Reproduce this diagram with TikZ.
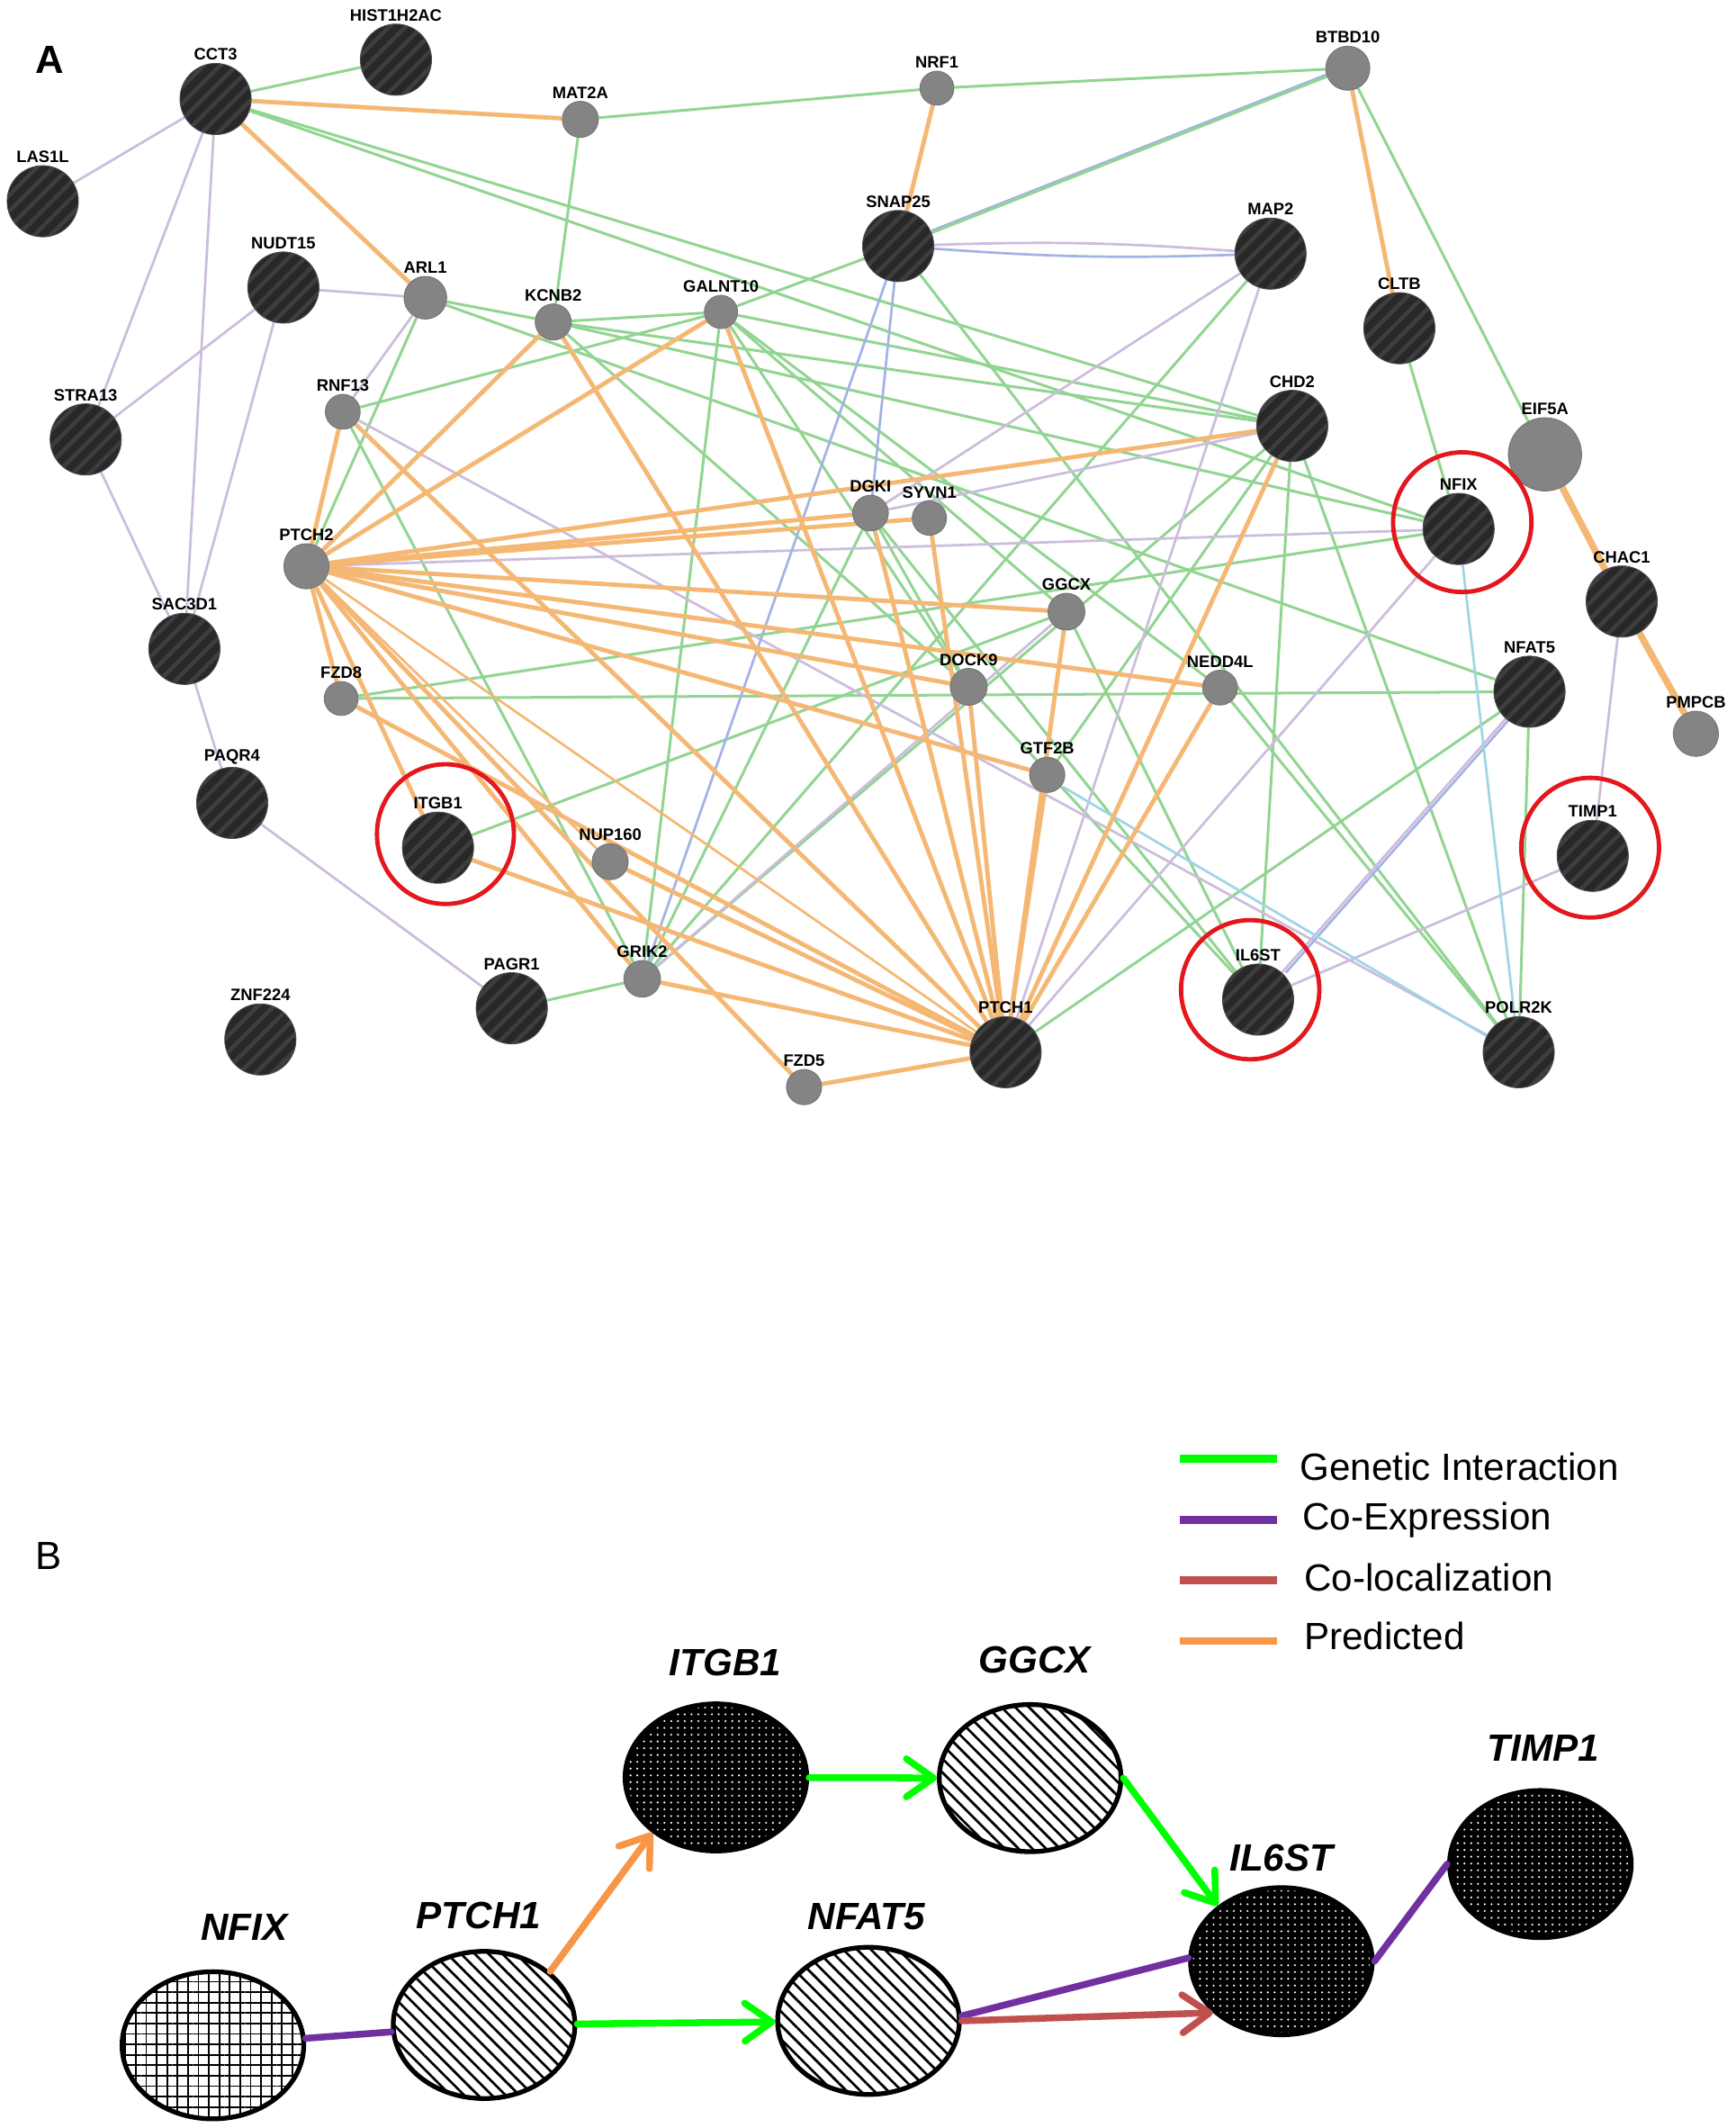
\documentclass[tikz,border=0pt]{standalone}
\usepackage{fontspec}
\setmainfont{Liberation Sans}
\usetikzlibrary{shapes.geometric,arrows.meta,patterns.meta}
\pgfdeclarelayer{edges}
\pgfsetlayers{edges,main}

\definecolor{genA}{HTML}{92D592}
\definecolor{predA}{HTML}{F5B874}
\definecolor{coexA}{HTML}{CDBCDD}
\definecolor{physA}{HTML}{A3B3E3}
\definecolor{pwayA}{HTML}{9FD5E4}
\definecolor{hubfill}{HTML}{282828}
\definecolor{hubline}{HTML}{3E3E3E}
\definecolor{grayfill}{HTML}{848484}
\definecolor{ringred}{HTML}{E3171D}
\definecolor{genB}{HTML}{00FF00}
\definecolor{coexB}{HTML}{7030A0}
\definecolor{colocB}{HTML}{C0504D}
\definecolor{predB}{HTML}{F79646}

\begin{document}
\begin{tikzpicture}[x=1pt, y=-1pt, label distance=1.2pt,
    glab/.style={font=\bfseries\fontsize{12.2}{13}\selectfont, inner sep=0.5pt},
    hub/.style={circle, draw=black!70, line width=0.6pt, minimum size=52.5pt, inner sep=0pt,
      preaction={fill=hubfill},
      preaction={pattern={Lines[angle=45,distance=8.5pt,line width=3pt]}, pattern color=hubline}},
    gnode/.style={circle, draw=black!55, line width=0.6pt, fill=grayfill, minimum size=#1, inner sep=0pt},
    gnode/.default=26pt,
    redring/.style={draw=ringred, line width=3.2pt},
    gen/.style={genA, line width=2pt},
    pred/.style={predA, line width=3.2pt},
    predthin/.style={predA, line width=1.8pt},
    coex/.style={coexA, line width=1.8pt},
    phys/.style={physA, line width=1.8pt},
    pway/.style={pwayA, line width=1.8pt},
    bgene/.style={ellipse, draw=black, line width=3.5pt, minimum width=134pt, minimum height=108.5pt, inner sep=0pt},
    gridfill/.style={bgene, preaction={fill=white},
      preaction={pattern={Hatch[distance=7.7pt,line width=1.2pt]}, pattern color=black}},
    stripefill/.style={bgene, preaction={fill=white},
      preaction={pattern={Lines[angle=-45,distance=7.2pt,line width=1.8pt]}, pattern color=black}},
    dotfill/.style={bgene, preaction={fill=black},
      preaction={pattern={Dots[distance=5pt,radius=0.8pt]}, pattern color=white}},
    blab/.style={font=\bfseries\itshape\fontsize{28}{30}\selectfont, inner sep=0pt},
    leg/.style={font=\fontsize{28}{30}\selectfont, inner sep=0pt, anchor=base west},
    link/.style={line width=5pt, line cap=round},
    arr/.style={link, -{Straight Barb[length=20pt,width=28pt,round]}}]
\useasboundingbox (0,0) rectangle (1280,1569);

% panel A: genes
\node[hub, label={[glab]above:CCT3}] (CCT3) at (159,73) {};
\node[hub, label={[glab]above:HIST1H2AC}] (HIST1H2AC) at (292,44) {};
\node[hub, label={[glab]above:LAS1L}] (LAS1L) at (31.5,148.4) {};
\node[hub, label={[glab]above:SNAP25}] (SNAP25) at (662.4,181.4) {};
\node[hub, label={[glab]above:MAP2}] (MAP2) at (937,187) {};
\node[hub, label={[glab]above:CLTB}] (CLTB) at (1032,242) {};
\node[hub, label={[glab]above:NUDT15}] (NUDT15) at (209,212) {};
\node[hub, label={[glab]above:STRA13}] (STRA13) at (63.2,324) {};
\node[hub, label={[glab]above:CHD2}] (CHD2) at (953,314) {};
\node[hub, label={[glab]above:NFIX}] (NFIX) at (1075.7,390) {};
\node[hub, label={[glab]above:CHAC1}] (CHAC1) at (1196,443.5) {};
\node[hub, label={[glab]above:SAC3D1}] (SAC3D1) at (136,478.4) {};
\node[hub, label={[glab]above:NFAT5}] (NFAT5) at (1128,510) {};
\node[hub, label={[glab]above:PAQR4}] (PAQR4) at (171.2,592) {};
\node[hub, label={[glab]above:ITGB1}] (ITGB1) at (323,625) {};
\node[hub, label={[glab]above:TIMP1}] (TIMP1) at (1174.6,631) {};
\node[hub, label={[glab]above:PAGR1}] (PAGR1) at (377.4,743.4) {};
\node[hub, label={[glab]above:IL6ST}] (IL6ST) at (927.8,737) {};
\node[hub, label={[glab]above:ZNF224}] (ZNF224) at (192,766.4) {};
\node[hub, label={[glab]above:PTCH1}] (PTCH1) at (741.6,775.8) {};
\node[hub, label={[glab]above:POLR2K}] (POLR2K) at (1120,775.8) {};

\node[gnode=26.6pt, label={[glab]above:MAT2A}] (MAT2A) at (428,88) {};
\node[gnode=25pt, label={[glab]above:NRF1}] (NRF1) at (691,65) {};
\node[gnode=32.5pt, label={[glab]above:BTBD10}] (BTBD10) at (994,50.3) {};
\node[gnode=31.5pt, label={[glab]above:ARL1}] (ARL1) at (313.7,219.5) {};
\node[gnode=26.6pt, label={[glab]above:KCNB2}] (KCNB2) at (408,237.4) {};
\node[gnode=24.5pt, label={[glab]above:GALNT10}] (GALNT10) at (531.7,230) {};
\node[gnode=25.7pt, label={[glab]above:RNF13}] (RNF13) at (252.8,303.6) {};
\node[gnode=54pt, label={[glab]above:EIF5A}] (EIF5A) at (1139.4,335) {};
\node[gnode=33.3pt, label={[glab]above:PTCH2}] (PTCH2) at (226,417.5) {};
\node[gnode=26.3pt, label={[glab]above:DGKI}] (DGKI) at (642,378.3) {};
\node[gnode=25.3pt, label={[glab]above:SYVN1}] (SYVN1) at (685.4,382) {};
\node[gnode=27.2pt, label={[glab]above:GGCX}] (GGCX) at (786.5,451) {};
\node[gnode=27.2pt, label={[glab]above:DOCK9}] (DOCK9) at (714.4,506.4) {};
\node[gnode=25.7pt, label={[glab]above:NEDD4L}] (NEDD4L) at (899.8,507) {};
\node[gnode=25pt, label={[glab]above:FZD8}] (FZD8) at (251.6,515) {};
\node[gnode=33.3pt, label={[glab]above:PMPCB}] (PMPCB) at (1250.7,541) {};
\node[gnode=26pt, label={[glab]above:GTF2B}] (GTF2B) at (772.3,571.3) {};
\node[gnode=26.6pt, label={[glab]above:NUP160}] (NUP160) at (450,635.3) {};
\node[gnode=27pt, label={[glab]above:GRIK2}] (GRIK2) at (473.6,721.7) {};
\node[gnode=26pt, label={[glab]above:FZD5}] (FZD5) at (593,801.5) {};

\node[font=\bfseries\fontsize{29}{30}\selectfont, inner sep=0pt] (panelA) at (37,44) {A};

% rings round the four hits
\draw[redring] (1078.4,385) ellipse [x radius=51, y radius=51.5];
\draw[redring] (328.5,615) ellipse [x radius=50.5, y radius=51.5];
\draw[redring] (922,729.7) ellipse [x radius=51, y radius=51.3];
\draw[redring] (1172.7,625) ellipse [x radius=50.8, y radius=51.5];

\begin{pgfonlayer}{edges}
\fill[white] (0,0) rectangle (1280,1569);
\foreach \a/\b in {CCT3/HIST1H2AC, CCT3/CHD2, CCT3/NFIX, MAT2A/NRF1, NRF1/BTBD10, MAT2A/KCNB2,
    NRF1/SNAP25, BTBD10/EIF5A, SNAP25/GALNT10, SNAP25/POLR2K, ARL1/KCNB2, ARL1/PTCH2, ARL1/NFAT5,
    KCNB2/GALNT10, KCNB2/NFIX, KCNB2/CHD2, KCNB2/DOCK9, GALNT10/CHD2, GALNT10/RNF13, GALNT10/GRIK2,
    GALNT10/DOCK9, GALNT10/GGCX, GALNT10/NEDD4L, RNF13/GRIK2, FZD8/NFIX, FZD8/NFAT5, ITGB1/GGCX,
    GGCX/IL6ST, DGKI/DOCK9, DGKI/IL6ST, DOCK9/IL6ST, PTCH1/NFAT5, NFAT5/POLR2K, CLTB/NFIX,
    CHD2/POLR2K, CHD2/IL6ST, CHD2/GRIK2, CHD2/GTF2B, NEDD4L/POLR2K, MAP2/GRIK2, PAGR1/GRIK2,
    GRIK2/DGKI}
  \draw[gen] (\a) -- (\b);
\foreach \a/\b in {CCT3/LAS1L, CCT3/STRA13, CCT3/SAC3D1, NUDT15/STRA13, NUDT15/SAC3D1, NUDT15/ARL1,
    STRA13/SAC3D1, SAC3D1/PAQR4, PAQR4/PAGR1, ARL1/RNF13, RNF13/POLR2K, PTCH2/NFIX, NFIX/PTCH1,
    IL6ST/TIMP1, CHAC1/TIMP1, MAP2/PTCH1, MAP2/DGKI, DGKI/CHD2, GRIK2/GGCX}
  \draw[coex] (\a) -- (\b);
\draw[coex] (SNAP25) to[bend left=3] (MAP2);
\draw[phys] (SNAP25) to[bend right=3] (MAP2);
\draw[phys, transform canvas={yshift=1.5pt}] (BTBD10) -- (SNAP25);
\draw[gen] (BTBD10) -- (SNAP25);
\draw[phys] (SNAP25) -- (DGKI);
\draw[phys] (SNAP25) -- (GRIK2);
\draw[coex] (NFAT5) -- (IL6ST);
\draw[phys, transform canvas={xshift=3pt}] (NFAT5) -- (IL6ST);
\draw[pway] (NFIX) -- (POLR2K);
\draw[pway, transform canvas={yshift=-2pt}] (GTF2B) -- (POLR2K);
\foreach \a/\b in {CCT3/MAT2A, CCT3/ARL1, NRF1/SNAP25, BTBD10/CLTB, PTCH2/RNF13, PTCH2/KCNB2,
    PTCH2/GALNT10, PTCH2/CHD2, PTCH2/DGKI, PTCH2/SYVN1, PTCH2/GGCX, PTCH2/NEDD4L, PTCH2/DOCK9,
    PTCH2/GTF2B, PTCH2/FZD8, PTCH2/ITGB1, PTCH2/GRIK2, PTCH2/FZD5, RNF13/PTCH1, KCNB2/PTCH1,
    GALNT10/PTCH1, DGKI/PTCH1, SYVN1/PTCH1, GGCX/PTCH1, DOCK9/PTCH1, GTF2B/PTCH1, NEDD4L/PTCH1,
    CHD2/PTCH1, ITGB1/PTCH1, NUP160/PTCH1, GRIK2/PTCH1, FZD5/PTCH1, FZD8/PTCH1}
  \draw[pred] (\a) -- (\b);
\draw[predthin] (PTCH2) -- (PTCH1);
\draw[predthin] (PTCH2) -- (NUP160);
\draw[predA, line width=5pt] (EIF5A) -- (CHAC1) -- (PMPCB);
\end{pgfonlayer}

% panel B: the pathway
\node[font=\fontsize{29}{30}\selectfont, inner sep=0pt] (panelB) at (36,1147) {B};

\node[gridfill] (NFIXb) at (157,1508) {};
\node[stripefill] (PTCH1b) at (357,1493) {};
\node[dotfill] (ITGB1b) at (528,1310.5) {};
\node[stripefill] (GGCXb) at (759.7,1311) {};
\node[stripefill] (NFAT5b) at (640.5,1490) {};
\node[dotfill] (IL6STb) at (945,1446) {};
\node[dotfill] (TIMP1b) at (1136,1374.4) {};

\node[blab] (NFIXl) at (180,1421) {NFIX};
\node[blab] (PTCH1l) at (353,1412.5) {PTCH1};
\node[blab] (ITGB1l) at (535,1226) {ITGB1};
\node[blab] (GGCXl) at (763,1224) {GGCX};
\node[blab] (NFAT5l) at (639,1413) {NFAT5};
\node[blab] (IL6STl) at (945,1370) {IL6ST};
\node[blab] (TIMP1l) at (1138,1289) {TIMP1};

\draw[link, coexB] (NFIXb) -- (PTCH1b);
\draw[arr, predB] (PTCH1b.39) -- (ITGB1b.221);
\draw[arr, genB] (ITGB1b) -- (GGCXb);
\draw[arr, genB] (GGCXb.east) -- (IL6STb.139);
\draw[arr, genB] (PTCH1b) -- (NFAT5b);
\draw[link, coexB] (NFAT5b.3) -- (IL6STb.178);
\draw[arr, colocB] (NFAT5b.east) -- (IL6STb.217);
\draw[link, coexB] (IL6STb.east) -- (TIMP1b.west);

% legend
\foreach \yy/\cc in {1075.6/genB, 1120.7/coexB, 1165.2/colocB, 1210/predB}
  \draw[\cc, line width=5.5pt] (870,\yy) -- (942,\yy);
\node[leg] (leg1) at (958.6,1091.5) {Genetic Interaction};
\node[leg] (leg2) at (960.5,1128) {Co-Expression};
\node[leg] (leg3) at (961.7,1173) {Co-localization};
\node[leg] (leg4) at (961.7,1216) {Predicted};
\end{tikzpicture}
\end{document}
